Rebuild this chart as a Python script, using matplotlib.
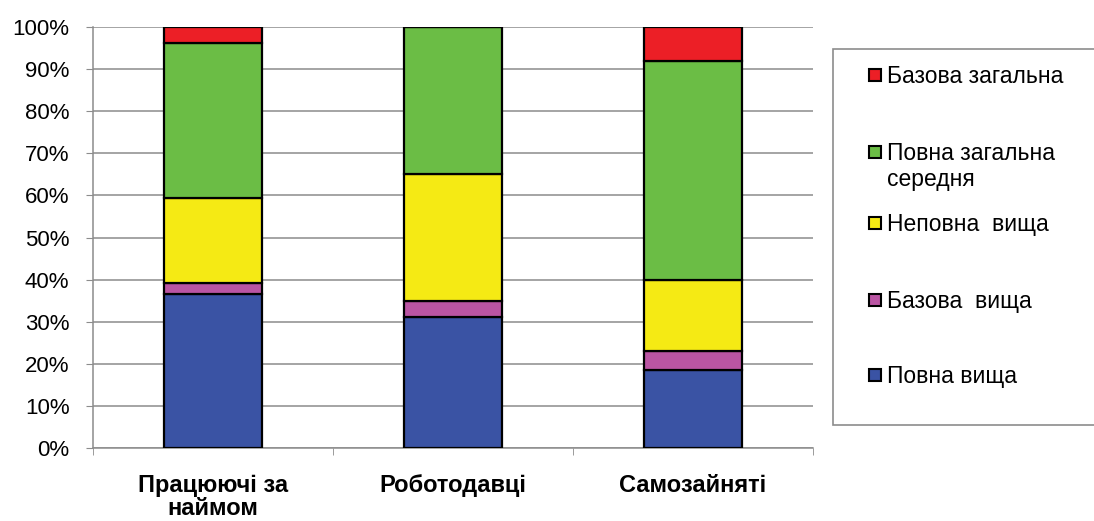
import numpy as np
import matplotlib.pyplot as plt
from matplotlib.patches import Rectangle

plt.rcParams['font.family'] = ['Liberation Sans', 'DejaVu Sans']

categories = ['Працюючі за\nнаймом', 'Роботодавці', 'Самозайняті']
series_names = ['Повна вища', 'Базова  вища', 'Неповна  вища',
                'Повна загальна\nсередня', 'Базова загальна']
povna_vyshcha = [36.5, 31.0, 18.6]
bazova_vyshcha = [2.6, 3.9, 4.5]
nepovna_vyshcha = [20.2, 30.1, 16.8]
povna_zagalna = [36.8, 35.0, 52.1]
bazova_zagalna = [3.9, 0.0, 8.0]
colors = ['#3A53A4', '#BA55A3', '#F5EA14', '#6BBD45', '#EC1F26']

W, H = 1094, 521
fig = plt.figure(figsize=(W / 100, H / 100), dpi=100)
ax = fig.add_axes([93 / W, (H - 448) / H, 720 / W, 421 / H])

x = np.arange(len(categories))
bottom = np.zeros(len(categories))
for name, vals, c in zip(series_names,
                         [povna_vyshcha, bazova_vyshcha, nepovna_vyshcha, povna_zagalna, bazova_zagalna],
                         colors):
    vals = np.array(vals)
    ax.bar(x, vals, 0.405, bottom=bottom, color=c, edgecolor='black',
           linewidth=1.6, label=name, zorder=3)
    bottom += vals

ax.set_xlim(-0.5, 2.5)
ax.set_ylim(0, 100)
ax.set_yticks(np.arange(0, 101, 10))
ax.set_yticklabels(['%d%%' % v for v in range(0, 101, 10)], fontsize=16)
ax.yaxis.grid(True, color='#8c8c8c', linewidth=1.1, zorder=0)
ax.set_axisbelow(True)

ax.set_xticks(x)
ax.set_xticklabels(categories, fontsize=17, fontweight='bold', linespacing=1.0)
ax.tick_params(axis='x', length=0, pad=19)
ax.set_xticks([-0.5, 0.5, 1.5, 2.5], minor=True)
ax.tick_params(axis='x', which='minor', length=5, color='#8c8c8c')
ax.tick_params(axis='y', length=5, color='#8c8c8c', pad=12)

for s in ['top', 'right']:
    ax.spines[s].set_visible(False)
for s in ['left', 'bottom']:
    ax.spines[s].set_color('#8c8c8c')
    ax.spines[s].set_linewidth(1.1)

# legend box, drawn by hand to follow the original spacing
fig.patches.append(Rectangle((833 / W, (H - 425) / H), 0.3, (425 - 49) / H,
                             transform=fig.transFigure, facecolor='white',
                             edgecolor='#8c8c8c', linewidth=1.2, zorder=0))
legend_y = [375, 300, 223, 152, 75]   # pixel row of first text line, bottom entry first
for name, c, yy in zip(series_names, colors, legend_y):
    fig.patches.append(Rectangle((869 / W, (H - yy - 6) / H), 12 / W, 12 / H,
                                 transform=fig.transFigure, facecolor=c,
                                 edgecolor='black', linewidth=1.5, zorder=2))
    fig.text(887 / W, (H - yy + 10) / H, name, fontsize=16.5, va='top',
             ha='left', linespacing=1.15)

fig.savefig('out.png', dpi=100)
